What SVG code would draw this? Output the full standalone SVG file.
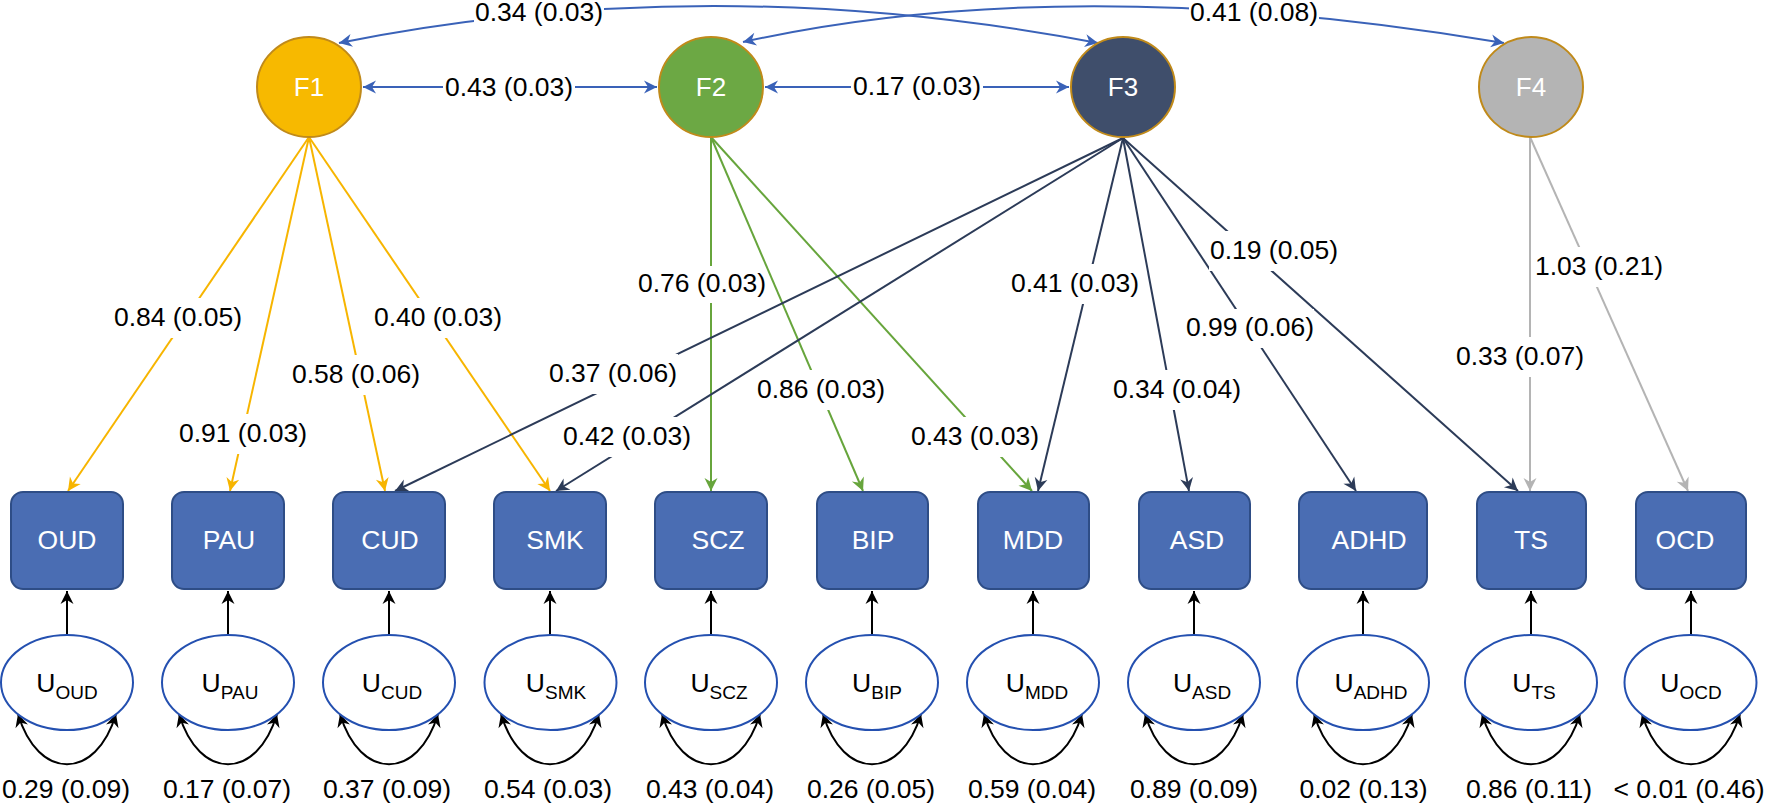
<svg xmlns="http://www.w3.org/2000/svg" width="1766" height="804" viewBox="0 0 1766 804">
<style>
text { font-family: "Liberation Sans", Arial, Helvetica, sans-serif; }
.lbl { font-size: 26.5px; fill: #000; text-anchor: middle; }
.bg { fill: #fff; }
.box { fill: #4A6DB3; stroke: #2E4D86; stroke-width: 2; }
.boxt { font-size: 26.5px; fill: #fff; text-anchor: middle; }
.u { fill: #fff; stroke: #2450B0; stroke-width: 2; }
.ut { font-size: 26.5px; fill: #000; text-anchor: middle; }
.sub { font-size: 19px; }
.fac { stroke: #C08A1A; stroke-width: 2; }
.ft { font-size: 26px; fill: #fff; text-anchor: middle; }
.cov { stroke: #3A62B8; stroke-width: 2; fill: none; marker-start: url(#aB); marker-end: url(#aB); }
.e1 { stroke: #F7B500; stroke-width: 2; fill: none; marker-end: url(#aY); }
.e2 { stroke: #67A53C; stroke-width: 2; fill: none; marker-end: url(#aG); }
.e3 { stroke: #2C3B58; stroke-width: 2; fill: none; marker-end: url(#aN); }
.e4 { stroke: #B4B4B4; stroke-width: 2; fill: none; marker-end: url(#aS); }
.ua { stroke: #000; stroke-width: 2; fill: none; marker-end: url(#aK); }
.loop { stroke: #000; stroke-width: 2; fill: none; marker-start: url(#aK); marker-end: url(#aK); }
</style>
<defs>
<marker id="aY" viewBox="-15 -8 16 16" refX="0" refY="0" markerWidth="16" markerHeight="16" markerUnits="userSpaceOnUse" orient="auto-start-reverse"><path d="M0,0 L-13,-6.5 L-9,0 L-13,6.5 Z" fill="#F7B500"/></marker>
<marker id="aG" viewBox="-15 -8 16 16" refX="0" refY="0" markerWidth="16" markerHeight="16" markerUnits="userSpaceOnUse" orient="auto-start-reverse"><path d="M0,0 L-13,-6.5 L-9,0 L-13,6.5 Z" fill="#67A53C"/></marker>
<marker id="aN" viewBox="-15 -8 16 16" refX="0" refY="0" markerWidth="16" markerHeight="16" markerUnits="userSpaceOnUse" orient="auto-start-reverse"><path d="M0,0 L-13,-6.5 L-9,0 L-13,6.5 Z" fill="#2C3B58"/></marker>
<marker id="aS" viewBox="-15 -8 16 16" refX="0" refY="0" markerWidth="16" markerHeight="16" markerUnits="userSpaceOnUse" orient="auto-start-reverse"><path d="M0,0 L-13,-6.5 L-9,0 L-13,6.5 Z" fill="#B4B4B4"/></marker>
<marker id="aB" viewBox="-15 -8 16 16" refX="0" refY="0" markerWidth="16" markerHeight="16" markerUnits="userSpaceOnUse" orient="auto-start-reverse"><path d="M0,0 L-13,-6.5 L-9,0 L-13,6.5 Z" fill="#3A62B8"/></marker>
<marker id="aK" viewBox="-15 -8 16 16" refX="0" refY="0" markerWidth="16" markerHeight="16" markerUnits="userSpaceOnUse" orient="auto-start-reverse"><path d="M0,0 L-13,-6.5 L-9,0 L-13,6.5 Z" fill="#000"/></marker>
</defs>
<rect x="0" y="0" width="1766" height="804" fill="#fff"/>

<g id="connectors">
  <!-- factor covariances -->
  <path class="cov" d="M339,43 Q709,-31 1098,43"/>
  <path class="cov" d="M743,42 Q1070,-30 1504,43"/>
  <path class="cov" d="M363,87 L657,87"/>
  <path class="cov" d="M765,87 L1069,87"/>
  <!-- F1 loadings -->
  <path class="e1" d="M309,137 L68,491"/>
  <path class="e1" d="M309,137 L230,491"/>
  <path class="e1" d="M309,137 L385,491"/>
  <path class="e1" d="M309,137 L550,491"/>
  <!-- F2 loadings -->
  <path class="e2" d="M711,137 L711,491"/>
  <path class="e2" d="M711,137 L863,491"/>
  <path class="e2" d="M711,137 L1032,491"/>
  <!-- F3 loadings -->
  <path class="e3" d="M1123,138 L395,491"/>
  <path class="e3" d="M1123,138 L556,491"/>
  <path class="e3" d="M1123,138 L1038,491"/>
  <path class="e3" d="M1123,138 L1189,491"/>
  <path class="e3" d="M1123,138 L1356,491"/>
  <path class="e3" d="M1123,138 L1518,491"/>
  <!-- F4 loadings -->
  <path class="e4" d="M1530,137 L1530,491"/>
  <path class="e4" d="M1530,137 L1688,491"/>
  <!-- unique factor paths -->
  <path class="ua" d="M67,635 L67,591"/>
  <path class="ua" d="M228,635 L228,591"/>
  <path class="ua" d="M389,635 L389,591"/>
  <path class="ua" d="M550,635 L550,591"/>
  <path class="ua" d="M711,635 L711,591"/>
  <path class="ua" d="M872,635 L872,591"/>
  <path class="ua" d="M1033,635 L1033,591"/>
  <path class="ua" d="M1194,635 L1194,591"/>
  <path class="ua" d="M1363,635 L1363,591"/>
  <path class="ua" d="M1531,635 L1531,591"/>
  <path class="ua" d="M1691,635 L1691,591"/>
  <!-- variance loops -->
  <path class="loop" d="M18,714 C38,781 96,781 116,714"/>
  <path class="loop" d="M179,714 C199,781 257,781 277,714"/>
  <path class="loop" d="M340,714 C360,781 418,781 438,714"/>
  <path class="loop" d="M501,714 C521,781 579,781 599,714"/>
  <path class="loop" d="M662,714 C682,781 740,781 760,714"/>
  <path class="loop" d="M823,714 C843,781 901,781 921,714"/>
  <path class="loop" d="M984,714 C1004,781 1062,781 1082,714"/>
  <path class="loop" d="M1145,714 C1165,781 1223,781 1243,714"/>
  <path class="loop" d="M1314,714 C1334,781 1392,781 1412,714"/>
  <path class="loop" d="M1482,714 C1502,781 1560,781 1580,714"/>
  <path class="loop" d="M1642,714 C1662,781 1720,781 1740,714"/>
  <!-- edge labels -->
  <rect class="bg" x="474" y="-2" width="130" height="34"/><text class="lbl" x="539" y="21">0.34 (0.03)</text>
  <rect class="bg" x="1189" y="-2" width="130" height="34"/><text class="lbl" x="1254" y="21">0.41 (0.08)</text>
  <rect class="bg" x="443" y="70" width="132" height="34"/><text class="lbl" x="509" y="96">0.43 (0.03)</text>
  <rect class="bg" x="851" y="70" width="132" height="34"/><text class="lbl" x="917" y="95">0.17 (0.03)</text>
  <rect class="bg" x="113" y="298" width="130" height="40"/><text class="lbl" x="178" y="326">0.84 (0.05)</text>
  <rect class="bg" x="178" y="414" width="130" height="40"/><text class="lbl" x="243" y="442">0.91 (0.03)</text>
  <rect class="bg" x="291" y="355" width="130" height="40"/><text class="lbl" x="356" y="383">0.58 (0.06)</text>
  <rect class="bg" x="373" y="298" width="130" height="40"/><text class="lbl" x="438" y="326">0.40 (0.03)</text>
  <rect class="bg" x="638" y="266" width="127" height="37"/><text class="lbl" x="702" y="292">0.76 (0.03)</text>
  <rect class="bg" x="548" y="354" width="130" height="40"/><text class="lbl" x="613" y="382">0.37 (0.06)</text>
  <rect class="bg" x="562" y="417" width="130" height="40"/><text class="lbl" x="627" y="445">0.42 (0.03)</text>
  <rect class="bg" x="756" y="370" width="130" height="40"/><text class="lbl" x="821" y="398">0.86 (0.03)</text>
  <rect class="bg" x="910" y="417" width="130" height="40"/><text class="lbl" x="975" y="445">0.43 (0.03)</text>
  <rect class="bg" x="1010" y="264" width="130" height="40"/><text class="lbl" x="1075" y="292">0.41 (0.03)</text>
  <rect class="bg" x="1112" y="370" width="130" height="40"/><text class="lbl" x="1177" y="398">0.34 (0.04)</text>
  <rect class="bg" x="1185" y="309" width="129" height="39"/><text class="lbl" x="1250" y="336">0.99 (0.06)</text>
  <rect class="bg" x="1209" y="231" width="130" height="40"/><text class="lbl" x="1274" y="259">0.19 (0.05)</text>
  <rect class="bg" x="1534" y="247" width="130" height="40"/><text class="lbl" x="1599" y="275">1.03 (0.21)</text>
  <rect class="bg" x="1455" y="337" width="130" height="40"/><text class="lbl" x="1520" y="365">0.33 (0.07)</text>
</g>

<g id="F1"><ellipse cx="309" cy="87" rx="52" ry="50" fill="#F7B900" class="fac"/><text class="ft" x="309" y="96">F1</text></g>
<g id="F2"><ellipse cx="711" cy="87" rx="52" ry="50" fill="#6CA844" class="fac"/><text class="ft" x="711" y="96">F2</text></g>
<g id="F3"><ellipse cx="1123" cy="87" rx="52" ry="50" fill="#3F4E6B" class="fac"/><text class="ft" x="1123" y="96">F3</text></g>
<g id="F4"><ellipse cx="1531" cy="87" rx="52" ry="50" fill="#B4B4B4" class="fac"/><text class="ft" x="1531" y="96">F4</text></g>

<g id="OUD"><rect class="box" x="11" y="492" width="112" height="97" rx="12"/><text class="boxt" x="67" y="549">OUD</text></g>
<g id="PAU"><rect class="box" x="172" y="492" width="112" height="97" rx="12"/><text class="boxt" x="229" y="549">PAU</text></g>
<g id="CUD"><rect class="box" x="333" y="492" width="112" height="97" rx="12"/><text class="boxt" x="390" y="549">CUD</text></g>
<g id="SMK"><rect class="box" x="494" y="492" width="112" height="97" rx="12"/><text class="boxt" x="555" y="549">SMK</text></g>
<g id="SCZ"><rect class="box" x="655" y="492" width="112" height="97" rx="12"/><text class="boxt" x="718" y="549">SCZ</text></g>
<g id="BIP"><rect class="box" x="817" y="492" width="111" height="97" rx="12"/><text class="boxt" x="873" y="549">BIP</text></g>
<g id="MDD"><rect class="box" x="978" y="492" width="111" height="97" rx="12"/><text class="boxt" x="1033" y="549">MDD</text></g>
<g id="ASD"><rect class="box" x="1139" y="492" width="111" height="97" rx="12"/><text class="boxt" x="1197" y="549">ASD</text></g>
<g id="ADHD"><rect class="box" x="1299" y="492" width="128" height="97" rx="12"/><text class="boxt" x="1369" y="549">ADHD</text></g>
<g id="TS"><rect class="box" x="1477" y="492" width="109" height="97" rx="12"/><text class="boxt" x="1531" y="549">TS</text></g>
<g id="OCD"><rect class="box" x="1636" y="492" width="110" height="97" rx="12"/><text class="boxt" x="1685" y="549">OCD</text></g>

<g id="U_OUD"><ellipse class="u" cx="67" cy="682.5" rx="66" ry="47.5"/><text class="ut" x="67" y="692">U<tspan class="sub" dy="7">OUD</tspan></text><text class="lbl" x="66" y="798">0.29 (0.09)</text></g>
<g id="U_PAU"><ellipse class="u" cx="228" cy="682.5" rx="66" ry="47.5"/><text class="ut" x="230" y="692">U<tspan class="sub" dy="7">PAU</tspan></text><text class="lbl" x="227" y="798">0.17 (0.07)</text></g>
<g id="U_CUD"><ellipse class="u" cx="389" cy="682.5" rx="66" ry="47.5"/><text class="ut" x="392" y="692">U<tspan class="sub" dy="7">CUD</tspan></text><text class="lbl" x="387" y="798">0.37 (0.09)</text></g>
<g id="U_SMK"><ellipse class="u" cx="550.5" cy="682.5" rx="66" ry="47.5"/><text class="ut" x="556" y="692">U<tspan class="sub" dy="7">SMK</tspan></text><text class="lbl" x="548" y="798">0.54 (0.03)</text></g>
<g id="U_SCZ"><ellipse class="u" cx="711" cy="682.5" rx="66" ry="47.5"/><text class="ut" x="719" y="692">U<tspan class="sub" dy="7">SCZ</tspan></text><text class="lbl" x="710" y="798">0.43 (0.04)</text></g>
<g id="U_BIP"><ellipse class="u" cx="872" cy="682.5" rx="66" ry="47.5"/><text class="ut" x="877" y="692">U<tspan class="sub" dy="7">BIP</tspan></text><text class="lbl" x="871" y="798">0.26 (0.05)</text></g>
<g id="U_MDD"><ellipse class="u" cx="1033" cy="682.5" rx="66" ry="47.5"/><text class="ut" x="1037" y="692">U<tspan class="sub" dy="7">MDD</tspan></text><text class="lbl" x="1032" y="798">0.59 (0.04)</text></g>
<g id="U_ASD"><ellipse class="u" cx="1194" cy="682.5" rx="66" ry="47.5"/><text class="ut" x="1202" y="692">U<tspan class="sub" dy="7">ASD</tspan></text><text class="lbl" x="1194" y="798">0.89 (0.09)</text></g>
<g id="U_ADHD"><ellipse class="u" cx="1363" cy="682.5" rx="66" ry="47.5"/><text class="ut" x="1371" y="692">U<tspan class="sub" dy="7">ADHD</tspan></text><text class="lbl" x="1363.5" y="798">0.02 (0.13)</text></g>
<g id="U_TS"><ellipse class="u" cx="1531" cy="682.5" rx="66" ry="47.5"/><text class="ut" x="1534" y="692">U<tspan class="sub" dy="7">TS</tspan></text><text class="lbl" x="1529" y="798">0.86 (0.11)</text></g>
<g id="U_OCD"><ellipse class="u" cx="1690.5" cy="682.5" rx="66" ry="47.5"/><text class="ut" x="1691" y="692">U<tspan class="sub" dy="7">OCD</tspan></text><text class="lbl" x="1689" y="798">&lt; 0.01 (0.46)</text></g>
</svg>
